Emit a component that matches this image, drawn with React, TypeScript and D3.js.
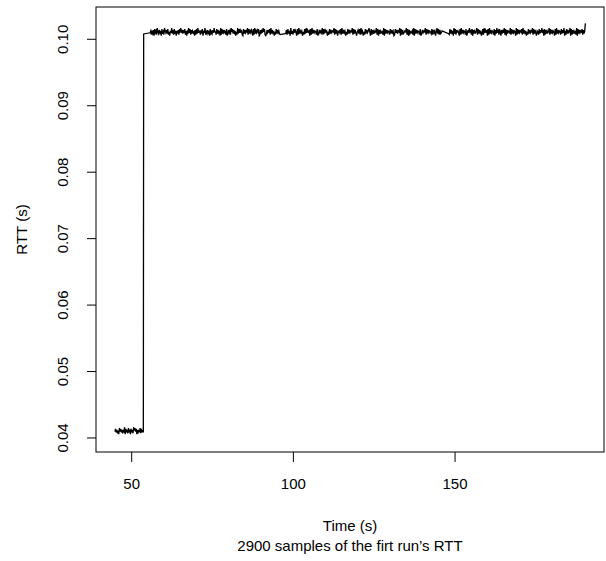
import * as d3 from 'd3'

// RTT trace, 4 ms link switching to ~101 ms around t=54 s
// each run: start/end time, centre level, and per-sample deviation digits (0..9, 5 = level)
const runStarts = [44.8, 53.7, 55.7, 97.4, 148.0, 190.3]
const runEnds = [53.6, 53.7, 95.9, 146.0, 190.1, 190.3]
const runLevels = [0.0411, 0.1008, 0.10112, 0.10112, 0.10112, 0.1024]
const runUnits = [0.00013, 0.0001, 0.00014, 0.00014, 0.00014, 0.0001]
const runDigits = [
  '473625184736254917362845173629584716354827363',
  '5',
  '4625371846295374618352964738251649372845163728495637482615394827364517283946527381649253746182537495' +
    '5283746192837465281374629583746152938475621837465928364751829364758127364958213746582937461528374632',
  '3372845193628475182937461528394756182937465281374649283756142837465928371564829374615283746592837415' +
    '7382946152837469518273645928173645291837465283746128473659182734659281735462918374652813746592837465' +
    '3827461593827346',
  '3283746193827564182937465281374956281736459283746138294756182937465281739462851736492817365492837465' +
    '1928374658293746152837465928374165283749561827364592837465182937465283749162837459182736452918374658' +
    '2736',
  '5',
]

const xTicks = [50, 100, 150]
const yTicks = [0.04, 0.05, 0.06, 0.07, 0.08, 0.09, 0.1]

const W = 606
const H = 561
const box = { left: 96, right: 604, top: 7, bottom: 452 }
const FONT = '"Liberation Sans", Arial, Helvetica, sans-serif'

export default function App() {
  const points: [number, number][] = []
  runDigits.forEach((digits, r) => {
    const n = digits.length
    for (let i = 0; i < n; i++) {
      const t = n === 1 ? runStarts[r] : runStarts[r] + ((runEnds[r] - runStarts[r]) * i) / (n - 1)
      const v = runLevels[r] + (Number(digits[i]) - 5) * runUnits[r]
      points.push([t, v])
    }
  })

  const x = d3.scaleLinear().domain([38.96, 196.06]).range([box.left, box.right])
  const y = d3.scaleLinear().domain([0.03789, 0.10486]).range([box.bottom, box.top])

  const line = d3
    .line<[number, number]>()
    .x((d) => x(d[0]))
    .y((d) => y(d[1]))

  const midX = (box.left + box.right) / 2
  const midY = (box.top + box.bottom) / 2

  return (
    <svg
      width={W}
      height={H}
      style={{ position: 'absolute', left: 0, top: 0, background: '#fff' }}
      fontFamily={FONT}
      fontSize={15}
    >
      <rect x={0} y={0} width={W} height={H} fill="#fff" />
      <path d={line(points) || ''} fill="none" stroke="#000" strokeWidth={1.3} strokeLinejoin="miter" />
      <rect
        x={box.left}
        y={box.top}
        width={box.right - box.left}
        height={box.bottom - box.top}
        fill="none"
        stroke="#000"
        strokeWidth={1}
      />
      {xTicks.map((t) => (
        <g key={t}>
          <line x1={x(t)} x2={x(t)} y1={box.bottom} y2={box.bottom + 10} stroke="#000" />
          <text x={x(t)} y={489} textAnchor="middle">
            {t}
          </text>
        </g>
      ))}
      {yTicks.map((t) => (
        <g key={t}>
          <line x1={box.left - 9} x2={box.left} y1={y(t)} y2={y(t)} stroke="#000" />
          <text
            transform={`translate(68,${y(t)}) rotate(-90)`}
            textAnchor="middle"
          >
            {t.toFixed(2)}
          </text>
        </g>
      ))}
      <text transform={`translate(27,${midY}) rotate(-90)`} textAnchor="middle">
        RTT (s)
      </text>
      <text x={midX} y={531} textAnchor="middle">
        Time (s)
      </text>
      <text x={midX} y={551} textAnchor="middle">
        2900 samples of the firt run’s RTT
      </text>
    </svg>
  )
}
